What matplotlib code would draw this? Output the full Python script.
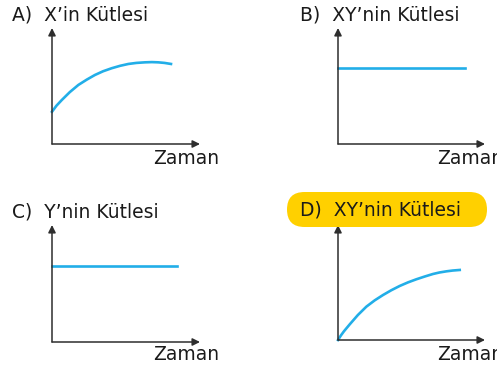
import matplotlib
matplotlib.use("Agg")
import matplotlib.pyplot as plt
from matplotlib.patches import FancyBboxPatch

# figure size in pixels
W, H = 497, 365

plt.rcParams['font.family'] = ['DejaVu Sans']

# panel titles and axis label
titles = ["A)  X\u2019in Kütlesi", "B)  XY\u2019nin Kütlesi",
          "C)  Y\u2019nin Kütlesi", "D)  XY\u2019nin Kütlesi"]
xlabel = "Zaman"

# curves (x, y in 0..1 of each axis)
a_x = [0.0, 0.03, 0.066, 0.12, 0.178, 0.235, 0.29, 0.345, 0.403, 0.46,
       0.516, 0.57, 0.628, 0.675, 0.718, 0.76, 0.804]
a_y = [0.278, 0.33, 0.379, 0.447, 0.509, 0.555, 0.595, 0.627, 0.653, 0.674,
       0.69, 0.699, 0.704, 0.706, 0.704, 0.699, 0.69]

b_x = [0.0, 0.864]
b_y = [0.655, 0.655]

c_x = [0.0, 0.845]
c_y = [0.65, 0.65]

d_x = [0.0, 0.02, 0.04, 0.079, 0.135, 0.193, 0.25, 0.306, 0.363, 0.42,
       0.476, 0.533, 0.59, 0.646, 0.69, 0.737, 0.78, 0.828]
d_y = [0.0, 0.04, 0.075, 0.135, 0.217, 0.29, 0.345, 0.391, 0.433, 0.47,
       0.501, 0.528, 0.552, 0.574, 0.587, 0.597, 0.604, 0.609]

series = [(a_x, a_y), (b_x, b_y), (c_x, c_y), (d_x, d_y)]

# axes boxes in pixels: left, right, top, bottom
boxes = [(52, 200, 28, 144), (338, 485, 28, 144),
         (52, 200, 225, 342), (338, 485, 225, 340)]
title_pos = [(12, 15), (300, 15), (12, 212), (300, 210)]
label_pos = [(153, 159), (437, 159), (153, 355), (437, 355)]

line_color = '#22aee8'
axis_color = '#2e2e2e'

fig = plt.figure(figsize=(W / 100, H / 100), dpi=100)

# yellow highlight behind the D title
fig.patches.append(FancyBboxPatch((2.87, (H - 227) / 100), 2.0, 0.35,
                                  boxstyle='round,pad=0,rounding_size=0.175',
                                  fc='#ffd000', ec='none',
                                  transform=fig.dpi_scale_trans, zorder=0))

for (l, r, t, b), (xs, ys), title, tp, lp in zip(boxes, series, titles, title_pos, label_pos):
    ax = fig.add_axes([l / W, 1 - b / H, (r - l) / W, (b - t) / H])
    ax.set_xlim(0, 1)
    ax.set_ylim(0, 1)
    ax.axis('off')
    ax.patch.set_alpha(0)
    arrow = dict(arrowstyle='-|>', color=axis_color, lw=1.1,
                 mutation_scale=11, shrinkA=0, shrinkB=0)
    ax.annotate('', xy=(1, 0), xytext=(0, 0), xycoords='axes fraction', arrowprops=arrow)
    ax.annotate('', xy=(0, 1), xytext=(0, 0), xycoords='axes fraction', arrowprops=arrow)
    ax.plot(xs, ys, color=line_color, lw=1.9, clip_on=False)

    fig.text(tp[0] / W, 1 - tp[1] / H, title, fontsize=13.5,
             ha='left', va='center', color='#1a1a1a')
    fig.text(lp[0] / W, 1 - lp[1] / H, xlabel, fontsize=13.5,
             ha='left', va='center', color='#1a1a1a')

fig.savefig("out.png", dpi=100)
